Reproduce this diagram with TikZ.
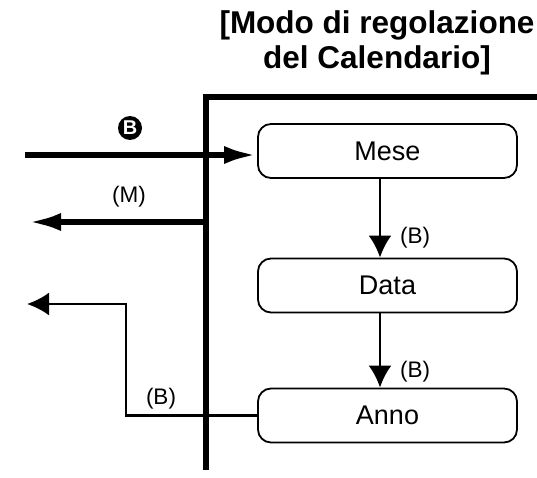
\documentclass[tikz,border=0pt]{standalone}
\usepackage{fontspec}
\setmainfont{Liberation Sans}
\usetikzlibrary{arrows.meta}
\tikzset{>={Latex[length=22pt,width=23pt]}}
\tikzset{
  modebox/.style = {draw, line width=1.8pt, rounded corners=13pt,
    minimum width=259pt, minimum height=54pt, inner sep=0pt,
    font=\fontsize{27}{30}\selectfont},
  lbl/.style = {font=\fontsize{22.5}{25}\selectfont, inner sep=0pt},
  heavy/.style = {line width=6pt},
  heavyarrow/.style = {line width=6pt, -{Latex[length=33pt,width=18pt]}},
  thinarrow/.style = {line width=2.8pt, ->}
}

\begin{document}
\begin{tikzpicture}[x=1pt,y=-1pt]
  \useasboundingbox (0,0) rectangle (537,478);
  \node[align=center, font=\bfseries\fontsize{31.5}{35}\selectfont, inner sep=0pt]
    (title) at (377,43) {[Modo di regolazione\\del Calendario]};
  \draw[heavy] (206,470) -- (206,97) -- (537,97);
  \node[modebox] (mese) at (387.5,151) {Mese};
  \node[modebox] (data) at (387.5,285.5) {Data};
  \node[modebox] (anno) at (387.5,415.5) {Anno};
  \coordinate (in) at (25,155);
  \coordinate (outstart) at (206,222);
  \coordinate (outend) at (28,222);
  \coordinate (bend) at (126,415.5);
  \coordinate (backend) at (27,304);
  \draw[heavyarrow] (in) -- (in -| mese.west);
  \node[circle, fill=black, text=white, inner sep=0pt, minimum size=24pt,
    font=\bfseries\fontsize{20}{20}\selectfont] (bkey) at (130,128) {B};
  \draw[heavyarrow] (outstart) -- (outend);
  \node[lbl] (mlabel) at (129,197) {(M)};
  \draw[thinarrow] ([xshift=-7.5pt]mese.south) -- ([xshift=-7.5pt]data.north);
  \node[lbl] (b1) at (415,238) {(B)};
  \draw[thinarrow] ([xshift=-7.5pt]data.south) -- ([xshift=-7.5pt]anno.north);
  \node[lbl] (b2) at (415,372) {(B)};
  \draw[thinarrow] (anno.west) -- (bend) |- (backend);
  \node[lbl] (b3) at (161,399) {(B)};
\end{tikzpicture}
\end{document}
